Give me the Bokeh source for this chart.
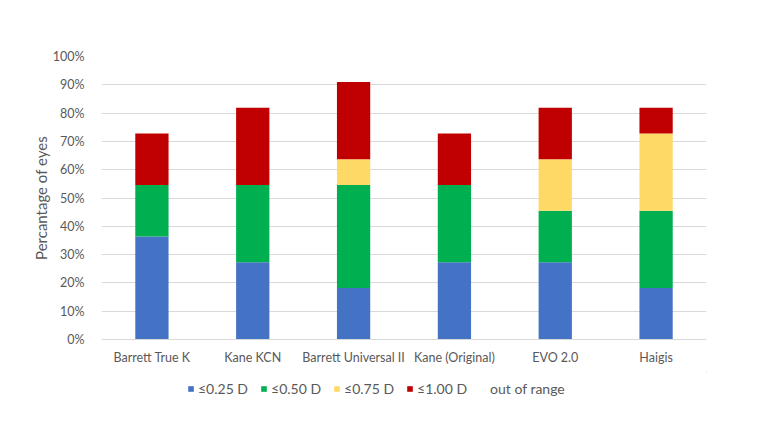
from bokeh.plotting import figure
from bokeh.layouts import column
from bokeh.models import Legend, LegendItem, NumeralTickFormatter, FixedTicker, Range1d
from bokeh.embed import file_html
from bokeh.resources import INLINE

# Share of eyes per refraction error band, for each IOL formula
formulas = ["Barrett True K", "Kane KCN", "Barrett Universal II",
            "Kane (Original)", "EVO 2.0", "Haigis"]
le_025 = [0.364, 0.273, 0.182, 0.273, 0.273, 0.182]
le_050 = [0.182, 0.273, 0.364, 0.273, 0.182, 0.273]
le_075 = [0.000, 0.000, 0.091, 0.000, 0.182, 0.273]
le_100 = [0.182, 0.273, 0.273, 0.182, 0.182, 0.091]

bands = ["le_025", "le_050", "le_075", "le_100"]
band_labels = ["≤0.25 D", "≤0.50 D", "≤0.75 D", "≤1.00 D", "out of range"]
colors = ["#4472C4", "#00B050", "#FFD966", "#C00000"]

# whatever remains up to 100% is "out of range" (left unfilled)
out_of_range = [1 - (a + b + c + d) for a, b, c, d in zip(le_025, le_050, le_075, le_100)]

source = dict(formula=formulas, le_025=le_025, le_050=le_050, le_075=le_075,
              le_100=le_100, out=out_of_range)

FONT = "Lato"
TEXT = "#595959"

p = figure(x_range=formulas, width=779, height=372,
           output_backend="svg", toolbar_location=None,
           min_border_left=101, min_border_right=73,
           min_border_top=56, min_border_bottom=33)
p.y_range = Range1d(0, 1.0)
p.outline_line_color = None
p.background_fill_color = "white"
p.border_fill_color = "white"

renderers = p.vbar_stack(bands + ["out"], x="formula", width=0.33, source=source,
                         color=colors + ["white"], line_color=None)
renderers[-1].glyph.fill_alpha = 0
renderers[-1].glyph.line_alpha = 0

# axes
p.yaxis.ticker = FixedTicker(ticks=[i / 10 for i in range(11)])
p.yaxis.formatter = NumeralTickFormatter(format="0%")
p.yaxis.axis_line_color = None
p.yaxis.major_tick_line_color = None
p.yaxis.minor_tick_line_color = None
p.yaxis.major_label_standoff = 11
p.yaxis.axis_label = "Percantage of eyes"
p.yaxis.axis_label_standoff = 0
p.yaxis.axis_label_text_font = FONT
p.yaxis.axis_label_text_font_style = "normal"
p.yaxis.axis_label_text_font_size = "15px"
p.yaxis.axis_label_text_color = TEXT

p.xaxis.axis_line_color = "#D9D9D9"
p.xaxis.major_tick_line_color = None
p.xaxis.minor_tick_line_color = None
p.xaxis.major_label_standoff = 4

for ax in (p.xaxis, p.yaxis):
    ax.major_label_text_font = FONT
    ax.major_label_text_font_size = "12.5px"
    ax.major_label_text_color = TEXT

p.xgrid.grid_line_color = None
p.ygrid.grid_line_color = "#D9D9D9"
p.ygrid.grid_line_width = 1

# legend strip underneath the chart; its swatch glyphs sit outside the visible range
leg = figure(width=779, height=61, output_backend="svg", toolbar_location=None,
             min_border=0, x_axis_location=None, y_axis_location=None,
             x_range=Range1d(0, 1), y_range=Range1d(0, 1))
leg.grid.grid_line_color = None
leg.outline_line_color = None
leg_renderers = []
for c in colors + ["white"]:
    r = leg.vbar(x=[5], top=[5], bottom=[4], width=0.1, color=c, line_color=None)
    leg_renderers.append(r)
leg_renderers[-1].glyph.fill_alpha = 0
leg_renderers[-1].glyph.line_alpha = 0

items = [LegendItem(label=lab, renderers=[r]) for lab, r in zip(band_labels, leg_renderers)]
legend = Legend(items=items, orientation="horizontal", location=(86, 36),
                glyph_width=7, glyph_height=7, label_standoff=4, spacing=12,
                padding=0, margin=0, border_line_color=None,
                background_fill_alpha=0,
                label_text_font=FONT, label_text_font_size="14px",
                label_text_color=TEXT)
leg.add_layout(legend, "center")

open("out.html", "w").write(file_html(column(p, leg, spacing=0), INLINE))
